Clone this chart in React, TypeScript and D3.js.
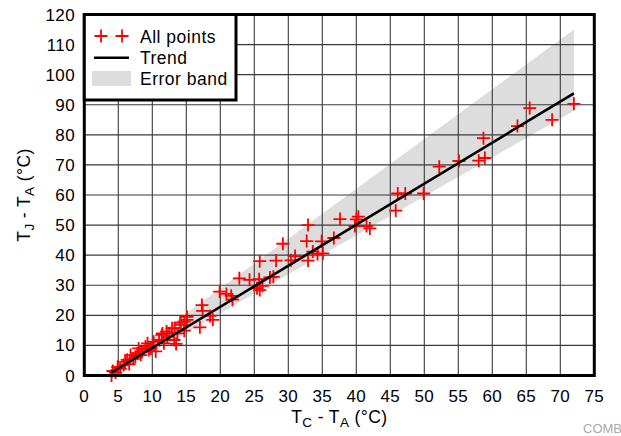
import React from "react";
import * as d3 from "d3";

const xTicks = [0, 5, 10, 15, 20, 25, 30, 35, 40, 45, 50, 55, 60, 65, 70, 75];
const yTicks = [0, 10, 20, 30, 40, 50, 60, 70, 80, 90, 100, 110, 120];

const pointsX = [
  4.0, 4.2, 4.6, 4.9, 5.3, 5.8, 6.0, 6.3, 6.6, 6.8, 7.2, 7.5, 7.8, 8.0, 8.3, 8.5,
  9.0, 9.3, 9.5, 9.8, 10.2, 10.5, 11.0, 11.4, 11.5, 11.7, 12.1, 12.2, 12.5, 12.9,
  13.2, 13.3, 13.5, 13.7, 14.1, 14.2, 14.7, 14.7, 15.1, 15.1,
  17.0, 17.3, 17.4, 18.5, 18.9, 19.9, 20.9, 21.6, 21.8, 22.8, 24.3, 25.4, 25.7,
  25.8, 25.8, 26.2, 27.3, 27.8, 28.2, 29.2, 30.4, 31.0, 32.7, 32.9, 32.9, 33.6,
  34.3, 34.9, 35.1, 36.7, 37.6, 39.8, 40.0, 40.3, 41.5, 42.0, 45.8, 46.1, 47.2,
  49.9, 52.2, 55.1, 58.0, 58.7, 58.9, 63.7, 65.5, 68.8, 72.0,
];
const pointsY = [
  0.0, 1.5, 1.0, 2.9, 2.2, 3.5, 4.5, 5.2, 3.8, 6.8, 5.5, 6.2, 7.4, 9.0, 6.8, 7.9,
  9.6, 10.7, 8.5, 9.0, 11.2, 8.0, 11.8, 13.5, 14.0, 10.7, 14.6, 12.9, 14.0, 15.7,
  11.8, 15.7, 10.5, 14.0, 17.6, 16.8, 17.9, 14.9, 19.5, 18.5,
  16.0, 23.4, 21.5, 19.8, 18.5, 27.9, 27.1, 26.5, 25.2, 32.3, 31.8, 29.0, 32.0,
  38.0, 28.4, 29.8, 32.6, 32.8, 38.2, 43.8, 38.3, 39.7, 44.7, 50.0, 38.2, 41.2,
  40.4, 44.6, 40.6, 45.7, 52.0, 49.7, 51.9, 52.8, 49.7, 48.9, 54.8, 60.5, 60.5,
  60.5, 69.4, 71.3, 71.4, 78.9, 72.3, 82.9, 88.9, 85.0, 90.3,
];

const trendX = [4, 72];
const trendY = [1.0, 93.8];

const bandX = [4, 72];
const bandUpper = [2.5, 115];
const bandLower = [0, 88];

const W = 621;
const H = 436;
const L = 84.3;
const R = 594.3;
const T = 14.5;
const B = 375.5;

const FONT = "'Liberation Sans', Arial, Helvetica, sans-serif";

export default function App() {
  const x = d3.scaleLinear().domain([0, 75]).range([L, R]);
  const y = d3.scaleLinear().domain([0, 120]).range([B, T]);

  const bandData = bandX.map((v, i) => ({ x: v, lo: bandLower[i], hi: bandUpper[i] }));
  const area = d3
    .area<{ x: number; lo: number; hi: number }>()
    .x((d) => x(d.x))
    .y0((d) => y(d.lo))
    .y1((d) => y(d.hi));
  const line = d3
    .line<number>()
    .x((d, i) => x(trendX[i]))
    .y((d) => y(d));

  const plus = "M-6.5,0H6.5M0,-6.5V6.5";

  return (
    <svg
      width={W}
      height={H}
      style={{ position: "absolute", left: 0, top: 0, background: "#fff" }}
      fontFamily={FONT}
    >
      <defs>
        <clipPath id="plotClip">
          <rect x={L} y={T} width={R - L} height={B - T} />
        </clipPath>
      </defs>
      <rect x={0} y={0} width={W} height={H} fill="#fff" />
      <g clipPath="url(#plotClip)">
        <path d={area(bandData) || ""} fill="#dddddd" />
        {xTicks.map((t) => (
          <line key={"gx" + t} x1={x(t)} x2={x(t)} y1={T} y2={B} stroke="#3a3a3a" strokeWidth={1.1} />
        ))}
        {yTicks.map((t) => (
          <line key={"gy" + t} x1={L} x2={R} y1={y(t)} y2={y(t)} stroke="#3a3a3a" strokeWidth={1.1} />
        ))}
      </g>
      {pointsX.map((px, i) => (
        <path
          key={"p" + i}
          d={plus}
          transform={`translate(${x(px)},${y(pointsY[i])})`}
          stroke="#ff0000"
          strokeWidth={1.8}
          fill="none"
        />
      ))}
      <path d={line(trendY) || ""} stroke="#000" strokeWidth={2.6} fill="none" />
      <rect x={L} y={T} width={R - L} height={B - T} fill="none" stroke="#000" strokeWidth={3} />

      {/* Legend */}
      <rect x={L} y={T} width={236 - L} height={100 - T} fill="#fff" stroke="#000" strokeWidth={3} />
      <path d={plus} transform="translate(101,36)" stroke="#ff0000" strokeWidth={1.8} fill="none" />
      <path d={plus} transform="translate(122,36)" stroke="#ff0000" strokeWidth={1.8} fill="none" />
      <text x={140} y={43} fontSize={17.5} letterSpacing={0.5} fill="#000">All points</text>
      <line x1={94} x2={129} y1={57.7} y2={57.7} stroke="#000" strokeWidth={2.6} />
      <text x={140} y={64} fontSize={17.5} letterSpacing={0.5} fill="#000">Trend</text>
      <rect x={92} y={71} width={39} height={15} fill="#dddddd" />
      <text x={140} y={85} fontSize={17.5} letterSpacing={0.5} fill="#000">Error band</text>

      {/* Y tick labels */}
      {yTicks.map((t) => (
        <text key={"yl" + t} x={75} y={y(t) + 6} fontSize={17} letterSpacing={0.4} textAnchor="end" fill="#000">
          {t}
        </text>
      ))}
      {/* X tick labels */}
      {xTicks.map((t) => (
        <text key={"xl" + t} x={x(t)} y={402} fontSize={17} letterSpacing={0.4} textAnchor="middle" fill="#000">
          {t}
        </text>
      ))}

      {/* X title */}
      <text x={(L + R) / 2} y={423} fontSize={17.5} letterSpacing={0.4} textAnchor="middle" fill="#000">
        T<tspan fontSize={13.5} dy={4}>C</tspan>
        <tspan dy={-4}> - T</tspan>
        <tspan fontSize={13.5} dy={4}>A</tspan>
        <tspan dy={-4}> (°C)</tspan>
      </text>

      {/* Y title */}
      <text
        transform={`translate(30,${(T + B) / 2}) rotate(-90)`}
        fontSize={17.5}
        letterSpacing={0.4}
        textAnchor="middle"
        fill="#000"
      >
        T<tspan fontSize={13.5} dy={4}>J</tspan>
        <tspan dy={-4}> - T</tspan>
        <tspan fontSize={13.5} dy={4}>A</tspan>
        <tspan dy={-4}> (°C)</tspan>
      </text>

      <text x={583} y={433} fontSize={13} fill="#aaaaaa">COMB</text>
    </svg>
  );
}
